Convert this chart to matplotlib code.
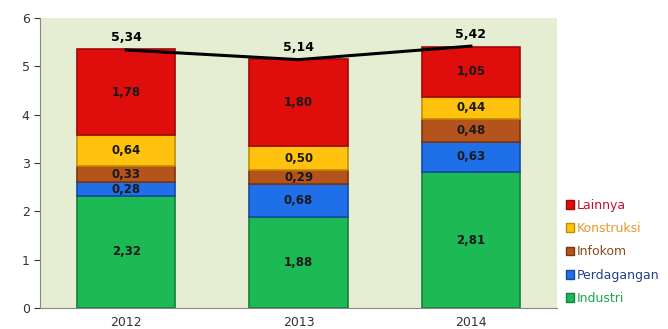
import matplotlib.pyplot as plt
from matplotlib.patches import Patch

# data
years = ['2012', '2013', '2014']
sectors = ['Industri', 'Perdagangan', 'Infokom', 'Konstruksi', 'Lainnya']
industri = [2.32, 1.88, 2.81]
perdagangan = [0.28, 0.68, 0.63]
infokom = [0.33, 0.29, 0.48]
konstruksi = [0.64, 0.50, 0.44]
lainnya = [1.78, 1.80, 1.05]
totals = [5.34, 5.14, 5.42]

series = [industri, perdagangan, infokom, konstruksi, lainnya]
fill_colors = ['#1db954', '#1f6fe8', '#b5531c', '#ffc20e', '#e00d0d']
edge_colors = ['#13803a', '#124aa6', '#7a3410', '#c08f00', '#a00808']
text_colors = ['#1aa84a', '#23408e', '#8b4a1a', '#e89a28', '#c0122a']

fig = plt.figure(figsize=(6.68, 3.29), dpi=100)
ax = fig.add_axes([0.06, 0.064, 0.774, 0.881])
ax.set_facecolor('#e5eed2')

x = list(range(len(years)))
bottom = [0, 0, 0]
for vals, fc, ec in zip(series, fill_colors, edge_colors):
    ax.bar(x, vals, width=0.57, bottom=bottom, color=fc, edgecolor=ec, linewidth=1.2, zorder=2)
    for i, v in enumerate(vals):
        ax.text(x[i], bottom[i] + v / 2, f'{v:.2f}'.replace('.', ','), ha='center', va='center',
                fontsize=8.5, fontweight='bold', color='#1a1a1a', zorder=4)
    bottom = [b + v for b, v in zip(bottom, vals)]

# total line and labels
ax.plot(x, totals, color='black', linewidth=2.2, zorder=3)
for i, t in enumerate(totals):
    ax.text(x[i], t + 0.25, f'{t:.2f}'.replace('.', ','), ha='center', va='center',
            fontsize=9, fontweight='bold', color='black', zorder=4)

ax.set_xlim(-0.5, 2.5)
ax.set_ylim(0, 6)
ax.set_yticks(range(7))
ax.set_xticks(x)
ax.set_xticklabels(years)
ax.tick_params(axis='both', labelsize=9, colors='#333333', length=4)
ax.tick_params(axis='x', length=0, pad=6)
for s in ['top', 'right']:
    ax.spines[s].set_visible(False)
ax.spines['left'].set_color('#888888')
ax.spines['bottom'].set_color('#888888')

handles = [Patch(facecolor=fc, edgecolor=ec) for fc, ec in zip(fill_colors, edge_colors)][::-1]
leg = fig.legend(handles, sectors[::-1], loc='upper left', bbox_to_anchor=(0.83, 0.43),
                 frameon=False, fontsize=9, labelcolor=text_colors[::-1],
                 handlelength=0.7, handleheight=0.7, handletextpad=0.15, labelspacing=0.82)

fig.savefig('out.png', dpi=100)
